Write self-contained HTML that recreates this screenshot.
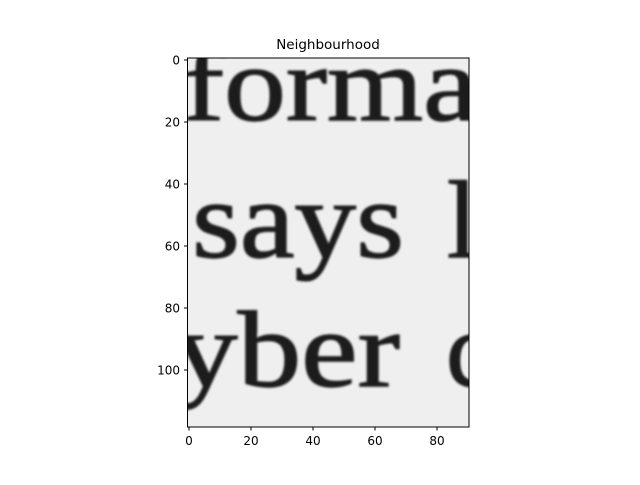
<!DOCTYPE html>
<html><head><meta charset="utf-8"><style>
body{margin:0;background:#fff;}
.sans{font-family:"DejaVu Sans","Liberation Sans",sans-serif;}
.serif{font-family:"Liberation Serif",serif;}
</style></head><body>
<svg width="640" height="480" viewBox="0 0 640 480">
<defs>
<clipPath id="clip"><rect x="187.5" y="58" width="281.5" height="369"/></clipPath>
<filter id="blur"><feGaussianBlur stdDeviation="1.1"/></filter>
</defs>
<text class="sans" x="328" y="49" font-size="13.5" text-anchor="middle" fill="#000">Neighbourhood</text>
<g clip-path="url(#clip)">
<rect x="187.5" y="58" width="281.5" height="369" fill="#efefef"/>
<g filter="url(#blur)" fill="#1c1c1c" stroke="#1c1c1c" stroke-width="1.4">
<text class="serif" x="183" y="120" font-size="106" textLength="295" lengthAdjust="spacingAndGlyphs">forma</text>
<text class="serif" x="192" y="257" font-size="110" textLength="212" lengthAdjust="spacingAndGlyphs">says</text>
<text class="serif" x="447" y="257" font-size="110">l</text>
<text class="serif" x="174" y="386" font-size="108" textLength="226" lengthAdjust="spacingAndGlyphs">yber</text>
<text class="serif" x="446" y="386" font-size="108">c</text>
</g>
</g>
<rect x="187.5" y="58" width="281.5" height="369" fill="none" stroke="#000" stroke-width="1"/>
<g id="xt" class="sans"></g>
<g id="yt" class="sans"></g>
<script>
const xTicks=[0,20,40,60,80];
const yTicks=[0,20,40,60,80,100];
const px0=189, py0=60, s=3.1;
const xg=document.getElementById('xt'), yg=document.getElementById('yt');
const NS='http://www.w3.org/2000/svg';
xTicks.forEach(v=>{
  const x=px0+v*s;
  const l=document.createElementNS(NS,'line');
  l.setAttribute('x1',x);l.setAttribute('x2',x);l.setAttribute('y1',427);l.setAttribute('y2',430.5);l.setAttribute('stroke','#000');
  
  
  xg.appendChild(l);
  const t=document.createElementNS(NS,'text');
  t.setAttribute('x',x);t.setAttribute('y',445);t.setAttribute('font-size','12');t.setAttribute('text-anchor','middle');
  t.textContent=v;
  
  
  xg.appendChild(t);
});
yTicks.forEach(v=>{
  const y=py0+v*s;
  const l=document.createElementNS(NS,'line');
  l.setAttribute('x1',184);l.setAttribute('x2',187.5);l.setAttribute('y1',y);l.setAttribute('y2',y);l.setAttribute('stroke','#000');
  
  
  yg.appendChild(l);
  const t=document.createElementNS(NS,'text');
  t.setAttribute('x',180);t.setAttribute('y',y+4.5);t.setAttribute('font-size','12');t.setAttribute('text-anchor','end');
  t.textContent=v;
  
  
  yg.appendChild(t);
});
</script>
</svg>
</body></html>
